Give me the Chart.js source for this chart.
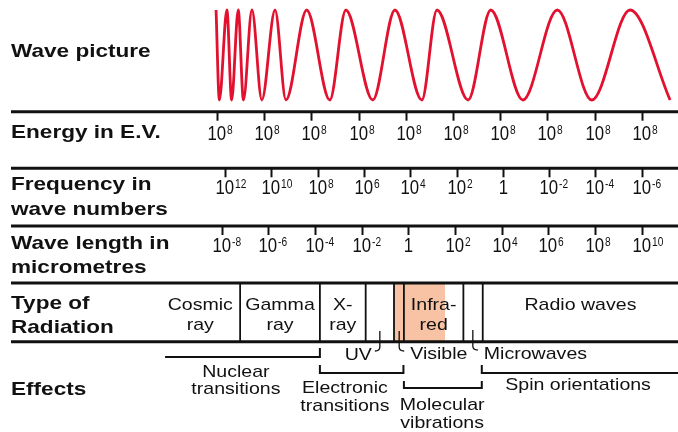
<!DOCTYPE html>
<html>
<head>
<meta charset="utf-8">
<script src="https://cdn.jsdelivr.net/npm/chart.js@4.4.1/dist/chart.umd.min.js"></script>
<style>
html, body { margin: 0; padding: 0; background: #fff; }
canvas { display: block; }
</style>
</head>
<body>
<canvas id="spectrum" width="678" height="432"></canvas>
<script>
// tick exponents, one per decade mark (0 is written as "1")
const energyExp = [8, 8, 8, 8, 8, 8, 8, 8, 8, 8];
const frequencyExp = [12, 10, 8, 6, 4, 2, 0, -2, -4, -6];
const wavelengthExp = [-8, -6, -4, -2, 0, 2, 4, 6, 8, 10];

// wave picture: crests (+1) and troughs (-1) along the decade axis
const waveX = [-0.02, 0.05, 0.21, 0.31, 0.45, 0.56, 0.74, 0.95, 1.23, 1.46, 1.90, 2.39,
               2.73, 3.30, 3.77, 4.34, 4.66, 5.32, 5.80, 6.48, 7.21, 7.94, 8.75, 9.60];
const waveY = [1, -1, 1, -1, 1, -1, 1, -1, 1, -1, 1, -1,
               1, -1, 1, -1, 1, -1, 1, -1, 1, -1, 1, -1];

// types of radiation, band edges in decade units
const bandEdges = [-1.2, 0.49, 2.18, 3.15, 3.75, 3.96, 5.22, 5.63, 9.77];
const bandNames = [['Cosmic', 'ray'], ['Gamma', 'ray'], ['X-', 'ray'], [], [], ['Infra-', 'red'], [], ['Radio waves']];
const shadedBand = [3.75, 4.83];

// narrow bands named below the row
const smallBandNames = ['UV', 'Visible', 'Microwaves'];
const smallBandAt = [3.45, 3.86, 5.42];

// effects and the ranges they cover
const effectNames = [['Nuclear', 'transitions'], ['Electronic', 'transitions'], ['Molecular', 'vibrations'], ['Spin orientations']];
const effectFrom = [-1.1, 2.18, 3.96, 5.61];
const effectTo = [2.18, 3.95, 5.61, 9.77];

const rowTitles = [['Wave picture'], ['Energy in E.V.'], ['Frequency in', 'wave numbers'],
                   ['Wave length in', 'micrometres'], ['Type of', 'Radiation'], ['Effects']];

// ---- layout ----
const W = 678, H = 432;
const TICK0_PX = 217, TICK_STEP_PX = 47.2;
const WAVE_TOP = 10, WAVE_BOTTOM = 100;
const RULES = [111.7, 168.3, 226, 283, 341.7];
const TITLE_BASE = [[57], [138], [190, 215], [249, 273], [309, 333], [395]];
const TICK_ROWS = [
  { exps: energyExp, rule: 111.7, base: 140, span: [0, 9] },
  { exps: frequencyExp, rule: 168.3, base: 194, span: [0.17, 9] },
  { exps: wavelengthExp, rule: 226, base: 252, span: [0.1, 9] }
];
const BAND_BASE = [310, 330];
const EFFECT_LAYOUT = [
  { y: 357, left: 0, right: 9, label: 0.4, base: [377, 394] },
  { y: 373, left: 8, right: 8, label: 2.71, base: [393, 411] },
  { y: 388, left: 7, right: 7, label: 4.77, base: [410, 428] },
  { y: 373, left: 8, right: 0, label: 7.65, base: [390] }
];
const HOOKS = [
  { dir: -1, top: 331, bottom: 351, labelBase: 360 },
  { dir: 1, top: 331, bottom: 351, labelBase: 359 },
  { dir: 1, top: 330, bottom: 350, labelBase: 359 }
];
const INK = '#111';
const RED = '#e2112f';
const PEACH = '#f7c3a4';
const FONT = '"Liberation Sans", Arial, sans-serif';

function stretchedText(ctx, str, x, y, size, weight, sx, align) {
  ctx.save();
  ctx.font = weight + ' ' + size + 'px ' + FONT;
  const w = ctx.measureText(str).width * sx;
  let left = x;
  if (align === 'center') left = x - w / 2;
  if (align === 'right') left = x - w;
  ctx.translate(left, y);
  ctx.scale(sx, 1);
  ctx.textAlign = 'left';
  ctx.textBaseline = 'alphabetic';
  ctx.fillStyle = INK;
  ctx.fillText(str, 0, 0);
  ctx.restore();
  return w;
}

function powerLabel(ctx, exp, x, y) {
  if (exp === 0) {
    stretchedText(ctx, '1', x, y, 21, 'normal', 0.8, 'center');
    return;
  }
  const left = x - 10;
  const bw = stretchedText(ctx, '10', left, y, 21, 'normal', 0.8, 'left');
  stretchedText(ctx, String(exp), left + bw + 0.8, y - 6.5, 12, 'normal', 0.85, 'left');
}

const spectrumLayout = {
  id: 'spectrumLayout',
  beforeDatasetsDraw(chart) {
    const ctx = chart.ctx;
    const xs = chart.scales.x;
    const px = v => xs.getPixelForValue(v);

    ctx.save();
    // shaded visible / infrared strip
    ctx.fillStyle = PEACH;
    ctx.fillRect(px(shadedBand[0]), RULES[3], px(shadedBand[1]) - px(shadedBand[0]), RULES[4] - RULES[3]);

    // horizontal rules
    ctx.strokeStyle = INK;
    ctx.lineWidth = 3;
    RULES.forEach(y => {
      ctx.beginPath();
      ctx.moveTo(11, y);
      ctx.lineTo(W, y);
      ctx.stroke();
    });

    // row titles
    rowTitles.forEach((lines, i) => {
      lines.forEach((t, j) => stretchedText(ctx, t, 11, TITLE_BASE[i][j], 18.5, 'bold', 1.22, 'left'));
    });

    // decade ticks and labels
    ctx.lineWidth = 2;
    TICK_ROWS.forEach(row => {
      row.exps.forEach((e, i) => {
        const v = row.span[0] + (row.span[1] - row.span[0]) * i / (row.exps.length - 1);
        const x = Math.round(px(v)) + 0.5;
        ctx.beginPath();
        ctx.moveTo(x, row.rule);
        ctx.lineTo(x, row.rule + 9);
        ctx.stroke();
        powerLabel(ctx, e, x, row.base);
      });
    });

    // radiation band dividers and names
    ctx.lineWidth = 1.8;
    for (let i = 1; i < bandEdges.length - 1; i++) {
      const x = px(bandEdges[i]);
      ctx.beginPath();
      ctx.moveTo(x, RULES[3]);
      ctx.lineTo(x, RULES[4]);
      ctx.stroke();
    }
    bandNames.forEach((lines, i) => {
      const cx = px((bandEdges[i] + bandEdges[i + 1]) / 2);
      lines.forEach((t, j) => stretchedText(ctx, t, cx, BAND_BASE[j], 17, 'normal', 1.15, 'center'));
    });

    // hooks for the narrow bands
    ctx.lineWidth = 1.3;
    smallBandNames.forEach((name, i) => {
      const h = HOOKS[i];
      const x = px(smallBandAt[i]);
      ctx.beginPath();
      ctx.moveTo(x, h.top);
      ctx.lineTo(x, h.bottom - 4);
      ctx.quadraticCurveTo(x, h.bottom, x + 5 * h.dir, h.bottom);
      ctx.stroke();
      if (h.dir < 0) {
        stretchedText(ctx, name, x - 8, h.labelBase, 17, 'normal', 1.15, 'right');
      } else {
        stretchedText(ctx, name, x + 11, h.labelBase, 17, 'normal', 1.15, 'left');
      }
    });

    // effect brackets and names
    ctx.lineWidth = 2;
    effectNames.forEach((lines, i) => {
      const L = EFFECT_LAYOUT[i];
      const x0 = px(effectFrom[i]), x1 = px(effectTo[i]);
      ctx.beginPath();
      ctx.moveTo(x0, L.y - L.left);
      ctx.lineTo(x0, L.y);
      ctx.lineTo(x1, L.y);
      ctx.lineTo(x1, L.y - L.right);
      ctx.stroke();
      lines.forEach((t, j) => stretchedText(ctx, t, px(L.label), L.base[j], 17, 'normal', 1.15, 'center'));
    });
    ctx.restore();
  }
};

// wave scale: +1 sits at WAVE_TOP px, -1 at WAVE_BOTTOM px
const unitPx = (WAVE_BOTTOM - WAVE_TOP) / 2;
const yMax = 1 + WAVE_TOP / unitPx;
const yMin = -1 - (H - WAVE_BOTTOM) / unitPx;

new Chart(document.getElementById('spectrum'), {
  type: 'line',
  data: {
    datasets: [{
      data: waveX.map((x, i) => ({ x: x, y: waveY[i] })),
      borderColor: RED,
      borderWidth: 2.8,
      pointRadius: 0,
      fill: false,
      cubicInterpolationMode: 'monotone'
    }]
  },
  options: {
    responsive: false,
    animation: false,
    devicePixelRatio: 1,
    layout: { padding: 0 },
    plugins: {
      legend: { display: false },
      tooltip: { enabled: false }
    },
    scales: {
      x: {
        type: 'linear',
        display: false,
        min: -TICK0_PX / TICK_STEP_PX,
        max: (W - TICK0_PX) / TICK_STEP_PX
      },
      y: {
        type: 'linear',
        display: false,
        min: yMin,
        max: yMax
      }
    }
  },
  plugins: [spectrumLayout]
});
</script>
</body>
</html>
